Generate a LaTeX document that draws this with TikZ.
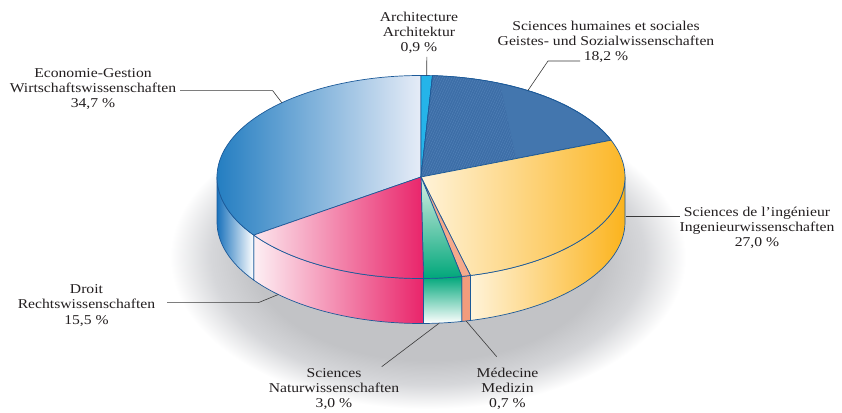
\documentclass[tikz,border=0pt]{standalone}
\usepackage{fontspec}
\setmainfont{Liberation Serif}[FakeStretch=1.16]
\usetikzlibrary{patterns.meta,calc}
\definecolor{edge}{HTML}{1C5A99}
\definecolor{leadc}{HTML}{3A3A3A}
\definecolor{labc}{HTML}{231F20}
\definecolor{shadowgrey}{RGB}{194,195,198}
\definecolor{shadowmid}{RGB}{214,215,218}
\definecolor{econA}{HTML}{0A6FBA}
\definecolor{econB}{HTML}{E6ECF7}
\definecolor{econS}{HTML}{1A72BC}
\definecolor{archC}{HTML}{25B4E9}
\definecolor{shC}{HTML}{4376AE}
\definecolor{shD}{HTML}{3D6EA7}
\definecolor{shH}{HTML}{5282B9}
\definecolor{ingA}{HTML}{FFF3D9}
\definecolor{ingB}{HTML}{FBB31C}
\definecolor{medC}{HTML}{F5A98B}
\definecolor{medS}{HTML}{F29C7C}
\definecolor{natA}{HTML}{00A77A}
\definecolor{natL}{HTML}{D8EFE5}
\definecolor{drA}{HTML}{FCE6ED}
\definecolor{drB}{HTML}{E9246A}
\pgfdeclareradialshading{pieshadow}{\pgfpointorigin}{color(0bp)=(shadowgrey); color(17bp)=(shadowgrey); color(21bp)=(shadowmid); color(25bp)=(white); color(50bp)=(white)}
\newcommand\topslice[2]{(C) -- ([shift={(C)}]#1:204 and 101.5) arc[start angle=#1, end angle=#2, x radius=204, y radius=101.5] -- cycle}
\newcommand\sideslice[2]{([shift={(C)}]#1:204 and 101.5) arc[start angle=#1, end angle=#2, x radius=204, y radius=101.5] -- ([shift={(B)}]#2:204 and 101.5) arc[start angle=#2, end angle=#1, x radius=204, y radius=101.5] -- cycle}
\begin{document}
\begin{tikzpicture}[x=1pt,y=1pt,
  pieedge/.style={draw=edge, line width=0.7pt, line join=round},
  leader/.style={draw=leadc, line width=0.6pt},
  lab/.style={align=center, font=\fontsize{13.5}{15}\selectfont, inner sep=0pt, text=labc}]
\useasboundingbox (0,0) rectangle (842,412);
\fill[white] (0,0) rectangle (842,412);
% soft shadow
\shade[shading=pieshadow] (428,155) ellipse [x radius=258, y radius=152];
\coordinate (C) at (421,235);
\coordinate (B) at (421,190);
% sides
\shade[left color=ingA, right color=ingB, pieedge] \sideslice{0}{-75.96};
\fill[medS, pieedge] \sideslice{-75.96}{-78.48};
\shade[top color=natA, bottom color=white, pieedge] \sideslice{-78.48}{-89.28};
\shade[left color=drA!60!white, right color=drB, pieedge] \sideslice{-89.28}{-145.08};
\shade[left color=econS, right color=white, pieedge] \sideslice{-145.08}{-180};
% tops
\shade[left color=econA, right color=econB, pieedge] \topslice{-145.08}{-270};
\fill[archC, pieedge] \topslice{90}{86.76};
\fill[shC, pieedge] \topslice{86.76}{21.24};
\coordinate (shCut) at ($(C)!0.5!([shift={(C)}]21.24:204 and 101.5)$);
\fill[shD] (C) -- ([shift={(C)}]86.76:204 and 101.5) arc[start angle=86.76, end angle=67.2, x radius=204, y radius=101.5] -- (shCut) -- cycle;
\fill[pattern={Lines[angle=65,distance=2.2pt,line width=0.4pt]}, pattern color=shH] (C) -- ([shift={(C)}]86.76:204 and 101.5) arc[start angle=86.76, end angle=67.2, x radius=204, y radius=101.5] -- (shCut) -- cycle;
\draw[pieedge] \topslice{86.76}{21.24};
\shade[left color=ingA, right color=ingB, pieedge] \topslice{21.24}{-75.96};
\fill[medC, pieedge] \topslice{-75.96}{-78.48};
\shade[top color=natL, bottom color=natA, pieedge] \topslice{-78.48}{-89.28};
\shade[left color=drA, right color=drB, pieedge] \topslice{-89.28}{-145.08};
% labels (anchor base = baseline of last line)
\node[lab, anchor=base] (archT) at (419,360.3) {Architecture\\Architektur\\0,9 \%};
\node[lab, anchor=base] (shT) at (606,351) {Sciences humaines et sociales\\Geistes- und Sozialwissenschaften\\18,2 \%};
\node[lab, anchor=base] (econT) at (93,304.3) {Economie-Gestion\\Wirtschaftswissenschaften\\34,7 \%};
\node[lab, anchor=base] (ingT) at (757,165.3) {Sciences de l’ingénieur\\Ingenieurwissenschaften\\27,0 \%};
\node[lab, anchor=base] (drT) at (86.5,88) {Droit\\Rechtswissenschaften\\15,5 \%};
\node[lab, anchor=base] (natT) at (334,4.3) {Sciences\\Naturwissenschaften\\3,0 \%};
\node[lab, anchor=base] (medT) at (507.5,4.3) {Médecine\\Medizin\\0,7 \%};
% leaders
\coordinate (archL) at (426.8,355);
\coordinate (archP) at ([shift={(C)}]88.38:204 and 101.5);
\draw[leader] (archL) -- (archP);
\coordinate (shL) at (580,351);
\coordinate (shK) at (548,351);
\coordinate (shP) at ([shift={(C)}]58.4:204 and 101.5);
\draw[leader] (shL) -- (shK) -- (shP);
\coordinate (econL) at (180,321.3);
\coordinate (econK) at (272.7,321.3);
\coordinate (econP) at ([shift={(C)}]133:204 and 101.5);
\draw[leader] (econL) -- (econK) -- (econP);
\coordinate (ingP) at (626,196);
\coordinate (ingL) at (680,196);
\draw[leader] (ingP) -- (ingL);
\coordinate (drL) at (167,109.3);
\coordinate (drK) at (258.3,109.3);
\coordinate (drP) at ([shift={(B)}]-134.4:204 and 101.5);
\draw[leader] (drL) -- (drK) -- (drP);
\coordinate (natL) at (381.7,45.3);
\coordinate (natP) at ([shift={(B)}]-84.85:204 and 101.5);
\draw[leader] (natL) -- (natP);
\coordinate (medL) at (496.7,55.3);
\coordinate (medP) at ([shift={(B)}]-77.22:204 and 101.5);
\draw[leader] (medL) -- (medP);
\end{tikzpicture}
\end{document}
